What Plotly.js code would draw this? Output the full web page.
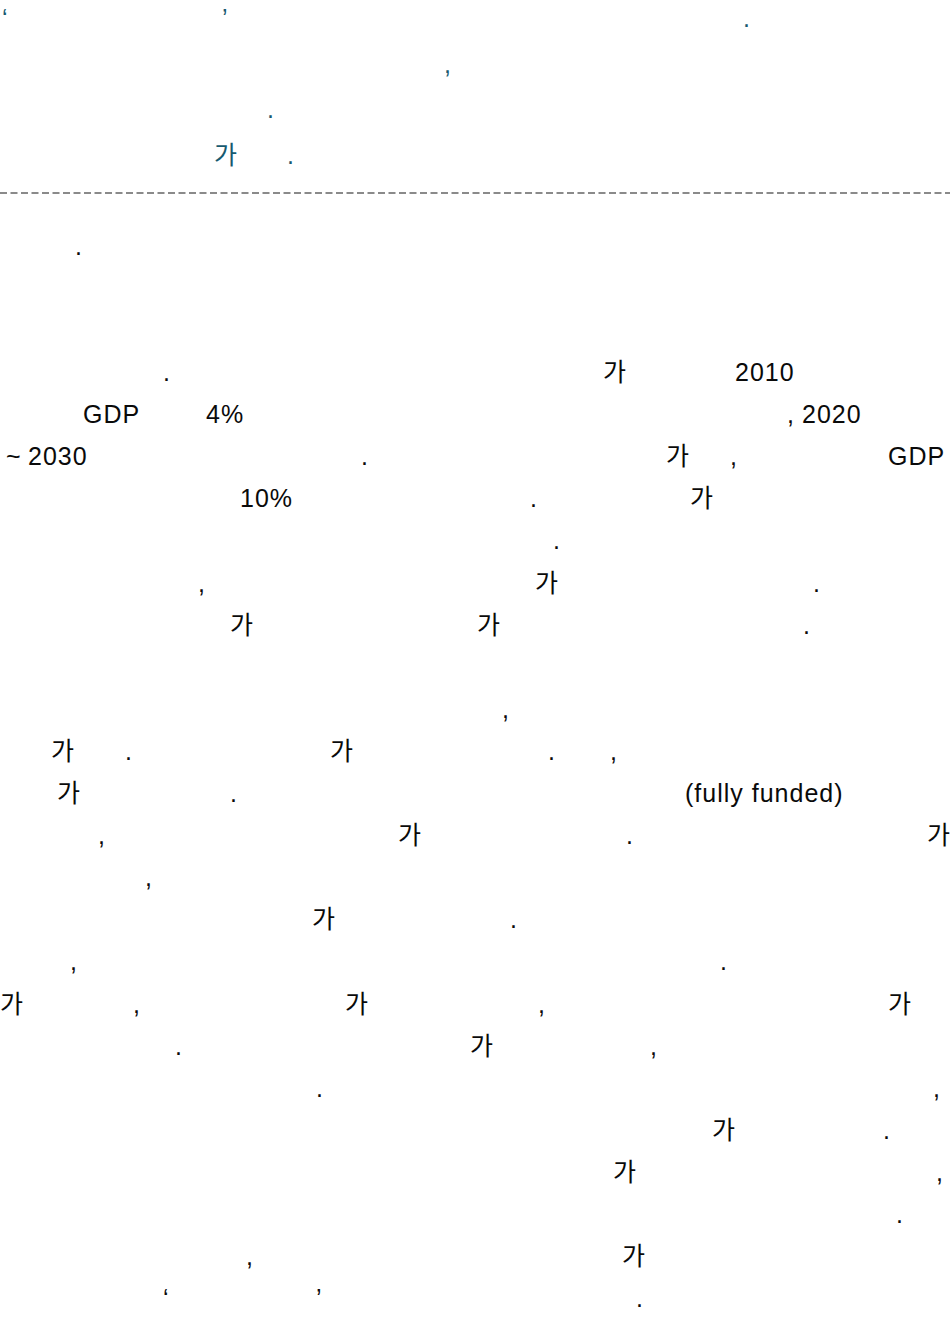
<!DOCTYPE html>
<html>
<head>
<meta charset="utf-8">
<script src="https://cdn.plot.ly/plotly-3.0.1.min.js"></script>
<style>
  html, body { margin: 0; padding: 0; background: #ffffff; }
  #chart { width: 950px; height: 1337px; }
  .textpoint text { letter-spacing: 1px; }
</style>
</head>
<body>
<div id="chart"></div>
<script>
// ---- Text content (data) ----
// Header block (teal) fragments
const headerText = ["\u2018", "\u2019", ".", ",", ".", "가", "."];
// Body block (black) fragments
const bodyText = [
  ".",
  ".", "가", "2010",
  "GDP", "4%", ",", "2020",
  "~", "2030", ".", "가", ",", "GDP",
  "10%", ".", "가",
  ".",
  ",", "가", ".",
  "가", "가", ".",
  ",",
  "가", ".", "가", ".", ",",
  "가", ".", "(fully funded)",
  ",", "가", ".", "가",
  ",",
  "가", ".",
  ",", ".",
  "가", ",", "가", ",", "가",
  ".", "가", ",",
  ".", ",",
  "가", ".",
  "가", ",",
  ".",
  ",", "가",
  "\u2018", "\u2019", "."
];

// ---- Placement (layout, not data) ----
const headerLine = [0, 0, 0, 1, 2, 3, 3];
const headerLeft = [2, 222, 743, 444, 267, 214, 287];
const headerBase0 = 27, headerStep = 45.5;

const bodyLine = [
  -3,
  0, 0, 0,
  1, 1, 1, 1,
  2, 2, 2, 2, 2, 2,
  3, 3, 3,
  4,
  5, 5, 5,
  6, 6, 6,
  8,
  9, 9, 9, 9, 9,
  10, 10, 10,
  11, 11, 11, 11,
  12,
  13, 13,
  14, 14,
  15, 15, 15, 15, 15,
  16, 16, 16,
  17, 17,
  18, 18,
  19, 19,
  20,
  21, 21,
  22, 22, 22
];
const bodyLeft = [
  75,
  163, 603, 735,
  83, 206, 787, 802,
  6, 28, 361, 666, 730, 888,
  240, 530, 690,
  553,
  198, 535, 813,
  230, 477, 803,
  502,
  51, 125, 330, 548, 610,
  57, 230, 685,
  98, 398, 626, 927,
  145,
  312, 510,
  70, 720,
  0, 133, 345, 538, 888,
  175, 470, 650,
  316, 933,
  712, 883,
  613, 936,
  896,
  246, 622,
  163, 316, 636
];
const bodyBase0 = 381, bodyStep = 42.1;

const FONT_SIZE = 25;
const FONT_FAMILY = "'Liberation Sans', Arial, 'Noto Sans CJK KR', sans-serif";

// scatter text with 'middle right' puts the baseline 0.25*fontsize below the point
function pointY(baseline) { return baseline - 0.25 * FONT_SIZE; }

const headerTrace = {
  type: 'scatter',
  mode: 'text',
  x: headerLeft,
  y: headerLine.map(l => pointY(headerBase0 + headerStep * l)),
  text: headerText,
  textposition: 'middle right',
  textfont: { family: FONT_FAMILY, size: FONT_SIZE, color: '#175a70' },
  cliponaxis: false,
  hoverinfo: 'skip',
  showlegend: false
};

const bodyTrace = {
  type: 'scatter',
  mode: 'text',
  x: bodyLeft,
  y: bodyLine.map(l => pointY(bodyBase0 + bodyStep * l)),
  text: bodyText,
  textposition: 'middle right',
  textfont: { family: FONT_FAMILY, size: FONT_SIZE, color: '#0a0a0a' },
  cliponaxis: false,
  hoverinfo: 'skip',
  showlegend: false
};

const layout = {
  width: 950,
  height: 1337,
  margin: { l: 0, r: 0, t: 0, b: 0, pad: 0 },
  paper_bgcolor: '#ffffff',
  plot_bgcolor: '#ffffff',
  xaxis: { range: [0, 950], visible: false, fixedrange: true },
  yaxis: { range: [1337, 0], visible: false, fixedrange: true },
  shapes: [{
    type: 'line', xref: 'paper', yref: 'y',
    x0: 0, x1: 1, y0: 193, y1: 193,
    line: { color: '#8a8a8a', width: 2, dash: '7px,3.5px' }
  }]
};

Plotly.newPlot('chart', [headerTrace, bodyTrace], layout, { staticPlot: true, displayModeBar: false });
</script>
</body>
</html>
